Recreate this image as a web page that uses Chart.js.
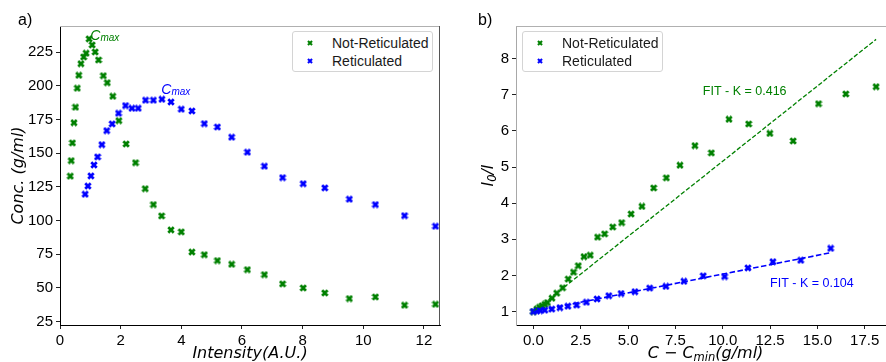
<!DOCTYPE html>
<html>
<head>
<meta charset="utf-8">
<script src="https://cdn.jsdelivr.net/npm/chart.js@4.4.1/dist/chart.umd.min.js"></script>
<style>
  body { margin: 0; background: #fff; width: 886px; height: 362px; overflow: hidden; position: relative; font-family: "Liberation Sans", Arial, sans-serif; }
  canvas { position: absolute; top: 0; }
  #chartA { left: 0; }
  #chartB { left: 445px; }
  .panel { position: absolute; top: 12px; font-size: 16px; line-height: 16px; color: #000; }
  .legend { position: absolute; top: 31px; width: 139px; height: 39px; border: 1px solid #d4d4d4; border-radius: 3px; background: #fff; }
  .legend-item { position: absolute; left: 0; height: 18px; line-height: 18px; font-size: 14px; color: #1a1a1a; white-space: nowrap; }
  .legend-item canvas { position: absolute; top: 6px; }
  .legend-item span { position: absolute; }
</style>
</head>
<body>
<canvas id="chartA" width="450" height="362"></canvas>
<canvas id="chartB" width="455" height="362"></canvas>
<div class="panel" style="left:18px">a)</div>
<div class="panel" style="left:478px">b)</div>
<div class="legend" id="legendA" style="left:292px"></div>
<div class="legend" id="legendB" style="left:522px"></div>
<script>
// a) konsentrasi vs intensitas
const intensityNotRet = [0.34, 0.37, 0.41, 0.46, 0.51, 0.57, 0.62, 0.69, 0.78, 0.86, 0.96, 1.06, 1.16, 1.27, 1.43, 1.56, 1.74, 1.94, 2.18, 2.49, 2.81, 3.08, 3.35, 3.66, 4.0, 4.35, 4.76, 5.19, 5.66, 6.18, 6.74, 7.34, 8.02, 8.73, 9.54, 10.4, 11.36, 12.38];
const concNotRet = [133, 144.5, 157.7, 172.7, 184.2, 198.3, 207.9, 216.5, 221.5, 224.3, 234.9, 230.4, 225.2, 219.3, 207.6, 202.4, 192.3, 174.2, 156.9, 143, 123.7, 111.9, 103.5, 93.1, 91.6, 76.7, 74.7, 70.3, 67.6, 63.6, 59.9, 53, 50, 46.3, 42.1, 43.3, 37.2, 37.9];
const intensityRet = [0.83, 0.92, 1.02, 1.12, 1.24, 1.38, 1.54, 1.72, 1.93, 2.16, 2.37, 2.58, 2.82, 3.08, 3.36, 3.66, 4.0, 4.35, 4.76, 5.19, 5.66, 6.18, 6.74, 7.34, 8.02, 8.73, 9.54, 10.4, 11.36, 12.38];
const concRet = [119.6, 125.7, 133.2, 141.3, 147.3, 156.4, 166.8, 171.8, 179.7, 185.4, 183.4, 183.4, 189.4, 189.4, 190.1, 188.1, 182.7, 181.4, 172, 169.5, 161.9, 150.8, 140.4, 131.9, 127.4, 124.3, 115.9, 111.9, 103.7, 95.8];
const ticksXa = [0, 2, 4, 6, 8, 10, 12];
const ticksYa = [25, 50, 75, 100, 125, 150, 175, 200, 225];
const cmaxPos = [[1.0, 234], [3.34, 194]];

// b) I0/I vs C - Cmin
const dilNotRet = [0, 0.18, 0.32, 0.46, 0.6, 0.74, 0.98, 1.23, 1.54, 1.84, 2.12, 2.37, 2.67, 3.0, 3.39, 3.76, 4.19, 4.66, 5.16, 5.73, 6.35, 7.02, 7.74, 8.53, 9.4, 10.33, 11.37, 12.49, 13.72, 15.06, 16.5, 18.1];
const ratioNotRet = [1.0, 1.07, 1.12, 1.16, 1.2, 1.25, 1.37, 1.51, 1.66, 1.9, 2.09, 2.27, 2.52, 2.56, 3.06, 3.15, 3.34, 3.46, 3.7, 3.91, 4.42, 4.7, 5.05, 5.59, 5.39, 6.32, 6.19, 5.93, 5.72, 6.75, 7.02, 7.22];
const dilRet = [0, 0.18, 0.35, 0.6, 0.97, 1.4, 1.82, 2.28, 2.8, 3.36, 3.98, 4.63, 5.36, 6.14, 7.0, 7.95, 8.97, 10.1, 11.33, 12.65, 14.12, 15.7];
const ratioRet = [1.0, 1.02, 1.03, 1.04, 1.07, 1.11, 1.15, 1.18, 1.26, 1.35, 1.44, 1.5, 1.55, 1.65, 1.7, 1.84, 1.99, 1.97, 2.21, 2.38, 2.42, 2.75];
const fitXNotRet = [0, 18.1];
const fitNotRet = [1.0, 8.53];
const fitXRet = [0, 15.7];
const fitRet = [1.0, 2.63];
const fitLabels = ["FIT - K = 0.416", "FIT - K = 0.104"];
const fitLabelPos = [[8.95, 7.0], [12.5, 1.69]];
const ticksXb = [0, 2.5, 5, 7.5, 10, 12.5, 15, 17.5];
const ticksYb = [1, 2, 3, 4, 5, 6, 7, 8];

const GREEN = "#008000";
const BLUE = "#0000ff";
const seriesNames = ["Not-Reticulated", "Reticulated"];

// marker X tebal seperti matplotlib 'X'
function makeMarker(color, size) {
  const c = document.createElement("canvas");
  c.width = size;
  c.height = size;
  const g = c.getContext("2d");
  const m = size * 0.16;
  g.strokeStyle = color;
  g.lineWidth = size * 0.34;
  g.beginPath();
  g.moveTo(m, m);
  g.lineTo(size - m, size - m);
  g.moveTo(size - m, m);
  g.lineTo(m, size - m);
  g.stroke();
  return c;
}

const toPoints = (xs, ys) => xs.map((x, i) => ({ x: x, y: ys[i] }));

function drawParts(ctx, parts, x, y, align) {
  let w = 0;
  parts.forEach((p) => {
    ctx.font = p.font;
    p.w = ctx.measureText(p.t).width;
    w += p.w;
  });
  let cx = align === "center" ? x - w / 2 : x;
  ctx.textAlign = "left";
  ctx.textBaseline = "alphabetic";
  parts.forEach((p) => {
    ctx.font = p.font;
    ctx.fillText(p.t, cx, y + (p.dy || 0));
    cx += p.w;
  });
}

// garis atas / kanan + judul sumbu + anotasi
const decorPlugin = {
  id: "decor",
  afterDraw(chart, args, opts) {
    const ctx = chart.ctx;
    const a = chart.chartArea;
    ctx.save();
    ctx.lineWidth = 1;
    ctx.strokeStyle = opts.topColor;
    ctx.beginPath();
    ctx.moveTo(a.left, a.top + 0.5);
    ctx.lineTo(a.right, a.top + 0.5);
    ctx.stroke();
    ctx.strokeStyle = opts.rightColor;
    ctx.beginPath();
    ctx.moveTo(a.right - 0.5, a.top);
    ctx.lineTo(a.right - 0.5, a.bottom);
    ctx.stroke();
    ctx.fillStyle = "#000";
    drawParts(ctx, opts.xTitle, (a.left + a.right) / 2, 358, "center");
    ctx.translate(opts.yTitleX, (a.top + a.bottom) / 2);
    ctx.rotate(-Math.PI / 2);
    drawParts(ctx, opts.yTitle, 0, 6, "center");
    ctx.restore();
    ctx.save();
    opts.notes.forEach((n) => {
      ctx.fillStyle = n.color;
      drawParts(ctx, n.parts, chart.scales.x.getPixelForValue(n.x), chart.scales.y.getPixelForValue(n.y), "left");
    });
    ctx.restore();
  },
};

function axis(min, max, ticks, fit, borderColor, fmt) {
  return {
    type: "linear",
    min: min,
    max: max,
    afterBuildTicks: (s) => { s.ticks = ticks.map((v) => ({ value: v })); },
    afterFit: fit,
    grid: { drawOnChartArea: false, drawTicks: true, tickLength: 4, tickColor: "#222" },
    border: { display: true, color: borderColor, width: 1 },
    ticks: {
      autoSkip: false,
      maxRotation: 0,
      padding: 3,
      color: "#000",
      font: { family: "Liberation Sans", size: 15 },
      callback: fmt || ((v) => String(v)),
    },
  };
}

const markGreen = makeMarker(GREEN, 8);
const markBlue = makeMarker(BLUE, 8);
const baseOptions = {
  responsive: false,
  animation: false,
  devicePixelRatio: 1,
  events: [],
};
const mathFont = (s) => "italic " + s + "px 'DejaVu Sans'";

new Chart(document.getElementById("chartA").getContext("2d"), {
  type: "scatter",
  data: {
    datasets: [
      { label: seriesNames[0], data: toPoints(intensityNotRet, concNotRet), pointStyle: markGreen, pointRadius: 4, order: 2 },
      { label: seriesNames[1], data: toPoints(intensityRet, concRet), pointStyle: markBlue, pointRadius: 4, order: 1 },
    ],
  },
  options: Object.assign({}, baseOptions, {
    layout: { padding: { top: 26, right: 10, left: 0, bottom: 0 } },
    scales: {
      x: axis(0, 12.53, ticksXa, (s) => { s.height = 37; }, "#000"),
      y: axis(22.5, 244.5, ticksYa, (s) => { s.width = 60; }, "#000"),
    },
    plugins: {
      legend: { display: false },
      tooltip: { enabled: false },
      decor: {
        topColor: "#b0b0b0",
        rightColor: "#555",
        yTitleX: 17,
        xTitle: [{ t: "Intensity(A.U.)", font: mathFont(16) }],
        yTitle: [{ t: "Conc. (g/ml)", font: mathFont(16) }],
        notes: cmaxPos.map((p, i) => ({
          x: p[0],
          y: p[1],
          color: i === 0 ? GREEN : BLUE,
          parts: [
            { t: "C", font: "italic 14px 'Liberation Sans'" },
            { t: "max", font: "italic 10px 'Liberation Sans'", dy: 1 },
          ],
        })),
      },
    },
  }),
  plugins: [decorPlugin],
});

new Chart(document.getElementById("chartB").getContext("2d"), {
  type: "scatter",
  data: {
    datasets: [
      { label: seriesNames[0], data: toPoints(dilNotRet, ratioNotRet), pointStyle: markGreen, pointRadius: 4, order: 3 },
      { label: seriesNames[1], data: toPoints(dilRet, ratioRet), pointStyle: markBlue, pointRadius: 4, order: 2 },
      { label: "fit0", data: toPoints(fitXNotRet, fitNotRet), showLine: true, borderColor: GREEN, borderWidth: 1.3, borderDash: [4.5, 2], pointRadius: 0, order: 1 },
      { label: "fit1", data: toPoints(fitXRet, fitRet), showLine: true, borderColor: BLUE, borderWidth: 1.6, borderDash: [5.5, 2.5], pointRadius: 0, order: 0 },
    ],
  },
  options: Object.assign({}, baseOptions, {
    layout: { padding: { top: 26, right: 3, left: 0, bottom: 0 } },
    scales: {
      x: axis(-0.92, 19.1, ticksXb, (s) => { s.height = 37; }, "#000", (v) => v.toFixed(1)),
      y: axis(0.63, 8.9, ticksYb, (s) => { s.width = 71; }, "#a8a8a8"),
    },
    plugins: {
      legend: { display: false },
      tooltip: { enabled: false },
      decor: {
        topColor: "#b0b0b0",
        rightColor: "#555",
        yTitleX: 42,
        xTitle: [
          { t: "C \u2212 C", font: mathFont(16) },
          { t: "min", font: mathFont(11.5), dy: 3 },
          { t: "(g/ml)", font: mathFont(16) },
        ],
        yTitle: [
          { t: "I", font: mathFont(16) },
          { t: "0", font: mathFont(11.5), dy: 3 },
          { t: "/I", font: mathFont(16) },
        ],
        notes: fitLabelPos.map((p, i) => ({
          x: p[0],
          y: p[1],
          color: i === 0 ? GREEN : BLUE,
          parts: [{ t: fitLabels[i], font: "12.5px 'Liberation Sans'" }],
        })),
      },
    },
  }),
  plugins: [decorPlugin],
});

// legenda HTML
function buildLegend(id) {
  const box = document.getElementById(id);
  [GREEN, BLUE].forEach((color, i) => {
    const item = document.createElement("div");
    item.className = "legend-item";
    item.style.top = 2 + i * 18.4 + "px";
    const mk = makeMarker(color, 6);
    mk.style.left = "14px";
    const text = document.createElement("span");
    text.style.left = "39px";
    text.textContent = seriesNames[i];
    item.appendChild(mk);
    item.appendChild(text);
    box.appendChild(item);
  });
}
buildLegend("legendA");
buildLegend("legendB");
</script>
</body>
</html>
